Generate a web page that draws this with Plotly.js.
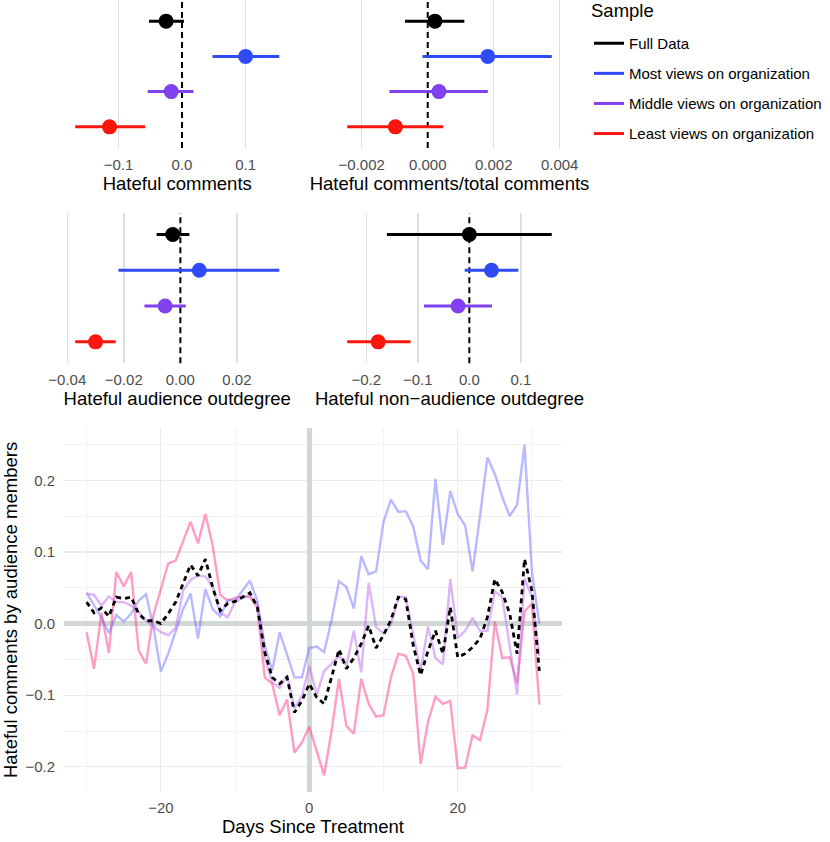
<!DOCTYPE html>
<html><head><meta charset="utf-8">
<script src="https://cdn.plot.ly/plotly-3.0.1.min.js"></script>
<style>html,body{margin:0;padding:0;background:#fff}</style>
</head><body><div id="chart" style="width:830px;height:842px"></div>
<script>
// ---------- data ----------
const samples = ['Full Data','Most views on organization','Middle views on organization','Least views on organization'];
const sampleColors = ['#000000','#2f4bf5','#8042f0','#f8170c'];
const paleColors = ['#000000','rgba(100,100,255,0.45)','rgba(190,110,240,0.5)','rgba(255,60,140,0.5)'];

const panelTitles = ['Hateful comments','Hateful comments/total comments','Hateful audience outdegree','Hateful non\u2212audience outdegree'];
const legendTitle = 'Sample';

// coefficient estimates and 95% intervals, order = samples
const commentsEst = [-0.025, 0.100, -0.017, -0.114];
const commentsLo  = [-0.052, 0.048, -0.054, -0.168];
const commentsHi  = [0.003, 0.153, 0.018, -0.058];

const ratioEst = [0.00022, 0.00182, 0.00034, -0.00098];
const ratioLo  = [-0.00069, -0.00016, -0.00116, -0.00244];
const ratioHi  = [0.00111, 0.00376, 0.00182, 0.00047];

const audOutEst = [-0.0027, 0.0067, -0.0054, -0.0300];
const audOutLo  = [-0.0084, -0.0219, -0.0127, -0.0372];
const audOutHi  = [0.0032, 0.0350, 0.0019, -0.0229];

const nonAudEst = [0.000, 0.043, -0.022, -0.177];
const nonAudLo  = [-0.160, -0.009, -0.088, -0.237];
const nonAudHi  = [0.160, 0.095, 0.044, -0.114];

const panelTicks = [[-0.1,0,0.1],[-0.002,0,0.002,0.004],[-0.04,-0.02,0,0.02],[-0.2,-0.1,0,0.1]];
const panelFormats = ['.1f','.3f','.2f','.1f'];

// daily series
const days = [-30,-29,-28,-27,-26,-25,-24,-23,-22,-21,-20,-19,-18,-17,-16,-15,-14,-13,-12,-11,-10,-9,-8,-7,-6,-5,-4,-3,-2,-1,0,1,2,3,4,5,6,7,8,9,10,11,12,13,14,15,16,17,18,19,20,21,22,23,24,25,26,27,28,29,30,31];
const fullSeries = [0.030,0.015,0.022,0.010,0.037,0.035,0.037,0.014,0.004,0.004,0.000,0.014,0.030,0.056,0.082,0.067,0.090,0.050,0.018,0.028,0.031,0.037,0.043,0.023,-0.040,-0.075,-0.084,-0.075,-0.124,-0.108,-0.084,-0.103,-0.112,-0.075,-0.036,-0.063,-0.048,-0.028,-0.003,-0.034,-0.016,0.005,0.037,0.034,-0.030,-0.072,-0.038,-0.010,-0.042,0.023,-0.047,-0.042,-0.033,-0.021,0.009,0.062,0.044,0.014,-0.042,0.090,0.046,-0.066];
const mostSeries = [0.043,0.025,0.008,-0.013,0.012,0.003,0.014,0.032,0.041,-0.005,-0.067,-0.042,-0.010,0.020,0.042,-0.021,0.048,0.020,0.010,0.033,0.032,0.046,0.060,0.032,-0.030,-0.066,-0.012,-0.043,-0.075,-0.075,-0.034,-0.032,-0.040,0.005,0.059,0.051,0.021,0.094,0.069,0.073,0.142,0.173,0.156,0.157,0.136,0.088,0.076,0.202,0.110,0.185,0.153,0.137,0.073,0.150,0.232,0.209,0.177,0.150,0.166,0.250,0.072,0.000];
const middleSeries = [0.042,0.040,0.025,0.038,0.030,0.030,0.025,0.016,0.004,-0.004,-0.012,-0.016,-0.006,0.046,0.061,0.067,0.066,0.051,0.015,0.009,0.030,0.036,0.040,0.027,-0.047,-0.082,-0.090,-0.072,-0.118,-0.101,-0.059,-0.099,-0.066,-0.056,-0.045,-0.058,-0.010,-0.068,0.057,-0.005,-0.014,-0.001,0.037,0.037,-0.016,-0.066,-0.004,-0.048,-0.057,0.062,-0.020,-0.010,0.008,-0.010,-0.010,0.045,0.037,-0.030,-0.099,0.063,0.037,-0.045];
const leastSeries = [-0.012,-0.063,0.015,-0.041,0.072,0.052,0.072,-0.037,-0.056,0.012,0.048,0.084,0.088,0.115,0.142,0.112,0.153,0.108,0.040,0.032,0.036,0.038,0.037,0.022,-0.075,-0.084,-0.128,-0.106,-0.180,-0.166,-0.144,-0.178,-0.212,-0.150,-0.077,-0.143,-0.154,-0.077,-0.112,-0.130,-0.128,-0.075,-0.042,-0.045,-0.070,-0.196,-0.137,-0.102,-0.112,-0.108,-0.202,-0.201,-0.156,-0.163,-0.120,0.003,-0.048,-0.047,-0.083,0.017,0.028,-0.113];

// ---------- build ----------
const W = 830, H = 842;
const FONT = 'Liberation Sans, Arial, Helvetica, sans-serif';
const panels = [
  {est: commentsEst, lo: commentsLo, hi: commentsHi},
  {est: ratioEst, lo: ratioLo, hi: ratioHi},
  {est: audOutEst, lo: audOutLo, hi: audOutHi},
  {est: nonAudEst, lo: nonAudLo, hi: nonAudHi}
];
const colX = [[65/W, 289.5/W], [337/W, 562/W]];
const rowY = [[1 - 148/H, 1], [1 - 363.3/H, 1 - 213/H]];

const data = [];
const layout = {
  width: W, height: H,
  margin: {l:0, r:0, t:0, b:0},
  paper_bgcolor: '#fff', plot_bgcolor: 'rgba(0,0,0,0)',
  font: {family: FONT, color: '#000'},
  showlegend: true,
  shapes: [],
  annotations: [{text: legendTitle, xref: 'paper', yref: 'paper', x: 589/W, y: 1 + 2/H,
    xanchor: 'left', yanchor: 'top', showarrow: false, font: {size: 18.5, color: '#000'}}],
  legend: {
    x: 589/W, y: 1 - 27/H, xanchor: 'left', yanchor: 'top',
    font: {size: 15, color: '#000'},
    tracegroupgap: 7.6, bgcolor: 'rgba(0,0,0,0)', itemwidth: 30
  }
};

panels.forEach((p, k) => {
  const ax = k + 1;
  const xa = 'xaxis' + ax, ya = 'yaxis' + ax;
  const allv = p.lo.concat(p.hi);
  const mn = Math.min(...allv), mx = Math.max(...allv), span = mx - mn;
  layout[xa] = {
    domain: colX[k % 2], anchor: 'y' + ax,
    range: [mn - 0.05 * span, mx + 0.05 * span],
    tickmode: 'array', tickvals: panelTicks[k], tickformat: panelFormats[k],
    showgrid: false,
    minor: {tickmode: 'array', tickvals: panelTicks[k].filter(v => v !== 0), showgrid: true,
      gridcolor: '#dedede', gridwidth: 1.4, ticks: ''},
    zeroline: false, showline: false, ticks: '', ticklabelstandoff: 6,
    tickfont: {size: 15, color: '#4d4d4d'},
    title: {text: panelTitles[k], font: {size: 18.5, color: '#000'}, standoff: 4}
  };
  layout[ya] = {
    domain: rowY[Math.floor(k / 2)], anchor: 'x' + ax,
    type: 'category', categoryorder: 'array', categoryarray: samples,
    range: [3.6, -0.6], showticklabels: false, showgrid: false, zeroline: false, showline: false
  };
  layout.shapes.push({type: 'line', xref: 'x' + ax, yref: 'y' + ax + ' domain', x0: 0, x1: 0, y0: 0, y1: 1,
    layer: 'below', line: {color: '#000', width: 2, dash: '6px,4px'}});
  samples.forEach((s, i) => {
    data.push({
      type: 'scatter', mode: 'markers', xaxis: 'x' + ax, yaxis: 'y' + ax,
      x: [p.est[i]], y: [s], showlegend: false, hoverinfo: 'skip',
      marker: {size: 15, color: sampleColors[i]},
      error_x: {type: 'data', symmetric: false, array: [p.hi[i] - p.est[i]], arrayminus: [p.est[i] - p.lo[i]],
        color: sampleColors[i], thickness: 3, width: 0}
    });
  });
});

// bottom time-series panel
const allSeries = fullSeries.concat(mostSeries, middleSeries, leastSeries);
const ymn = Math.min(...allSeries), ymx = Math.max(...allSeries), yspan = ymx - ymn;
const xmn = Math.min(...days), xmx = Math.max(...days), xspan = xmx - xmn;
layout.xaxis5 = {
  domain: [64/W, 562/W], anchor: 'y5',
  range: [xmn - 0.05 * xspan, xmx + 0.05 * xspan],
  tickmode: 'linear', tick0: 0, dtick: 20,
  showgrid: true, gridcolor: '#ebebeb', gridwidth: 1.2,
  minor: {tickmode: 'linear', tick0: 0, dtick: 10, showgrid: true, gridcolor: '#f2f2f2', gridwidth: 1},
  zeroline: true, zerolinecolor: '#d0d7d4', zerolinewidth: 4.5,
  showline: false, ticks: '', ticklabelstandoff: 5,
  tickfont: {size: 15, color: '#4d4d4d'},
  title: {text: 'Days Since Treatment', font: {size: 18.5, color: '#000'}, standoff: 4}
};
layout.yaxis5 = {
  domain: [1 - 792/H, 1 - 428/H], anchor: 'x5',
  range: [ymn - 0.05 * yspan, ymx + 0.05 * yspan],
  tickmode: 'linear', tick0: 0, dtick: 0.1, tickformat: '.1f',
  showgrid: true, gridcolor: '#ebebeb', gridwidth: 1.2,
  minor: {tickmode: 'linear', tick0: 0, dtick: 0.05, showgrid: true, gridcolor: '#f2f2f2', gridwidth: 1},
  zeroline: true, zerolinecolor: '#d0d7d4', zerolinewidth: 4.5,
  showline: false, ticks: '', ticklabelstandoff: 8,
  tickfont: {size: 15, color: '#4d4d4d'},
  title: {text: 'Hateful comments by audience members', font: {size: 18.5, color: '#000'}, standoff: 3}
};

const seriesList = [leastSeries, mostSeries, middleSeries];
const seriesIdx = [3, 1, 2];
seriesList.forEach((ys, j) => {
  data.push({type: 'scatter', mode: 'lines', xaxis: 'x5', yaxis: 'y5', x: days, y: ys,
    line: {color: paleColors[seriesIdx[j]], width: 2.4}, showlegend: false, hoverinfo: 'skip'});
});
data.push({type: 'scatter', mode: 'lines', xaxis: 'x5', yaxis: 'y5', x: days, y: fullSeries,
  line: {color: '#000', width: 2.8, dash: '5px,4px'}, showlegend: false, hoverinfo: 'skip'});

// legend entries
samples.forEach((s, i) => {
  data.push({type: 'scatter', mode: 'lines', xaxis: 'x5', yaxis: 'y5', x: [null], y: [null],
    name: s, legendgroup: 'g' + i, line: {color: sampleColors[i], width: 3}, hoverinfo: 'skip'});
});

Plotly.newPlot('chart', data, layout, {staticPlot: true, displayModeBar: false});
</script>
</body></html>
